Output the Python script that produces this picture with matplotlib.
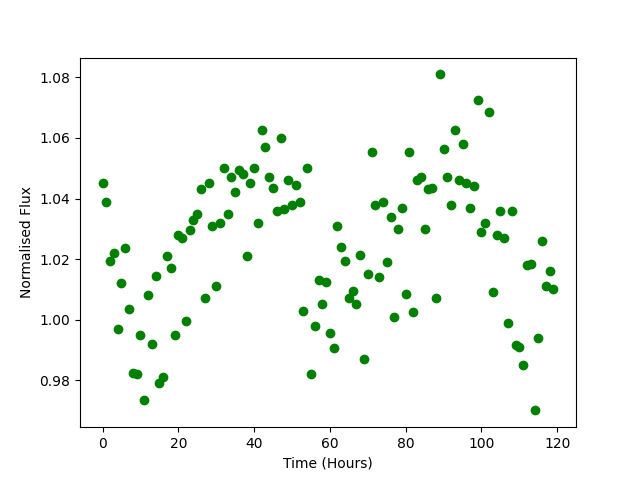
import matplotlib
matplotlib.use('Agg')
import matplotlib.pyplot as plt

# observation times, one reading per hour
hours = list(range(120))

# normalised flux
flux = [1.045, 1.039, 1.0195, 1.022, 0.997, 1.012, 1.0235, 1.0035, 0.9825, 0.982,
        0.995, 0.9735, 1.008, 0.992, 1.0145, 0.979, 0.981, 1.021, 1.017, 0.995,
        1.028, 1.027, 0.9995, 1.0295, 1.033, 1.035, 1.043, 1.007, 1.045, 1.031,
        1.011, 1.032, 1.050, 1.035, 1.047, 1.042, 1.0495, 1.048, 1.021, 1.045,
        1.050, 1.032, 1.0625, 1.057, 1.047, 1.0435, 1.036, 1.060, 1.0365, 1.046,
        1.038, 1.0445, 1.039, 1.003, 1.050, 0.982, 0.998, 1.013, 1.005, 1.0125,
        0.9955, 0.9905, 1.031, 1.024, 1.0195, 1.007, 1.0095, 1.005, 1.0215, 0.987,
        1.015, 1.0555, 1.038, 1.014, 1.039, 1.019, 1.034, 1.001, 1.030, 1.037,
        1.0085, 1.0555, 1.0025, 1.046, 1.047, 1.030, 1.043, 1.0435, 1.007, 1.081,
        1.0565, 1.047, 1.038, 1.0625, 1.046, 1.058, 1.045, 1.037, 1.044, 1.0725,
        1.029, 1.032, 1.0685, 1.009, 1.028, 1.036, 1.027, 0.999, 1.036, 0.9915,
        0.991, 0.985, 1.018, 1.0185, 0.970, 0.994, 1.026, 1.011, 1.016, 1.010]


def plot_flux(t, f):
    """
    Plots normalised flux vs. time
    """
    plt.figure(figsize=(6.4, 4.8), dpi=100)
    plt.plot(t, f, 'go')
    plt.xlabel('Time (Hours)')
    plt.ylabel('Normalised Flux')
    plt.savefig('out.png')


if __name__ == '__main__':
    plot_flux(hours, flux)
